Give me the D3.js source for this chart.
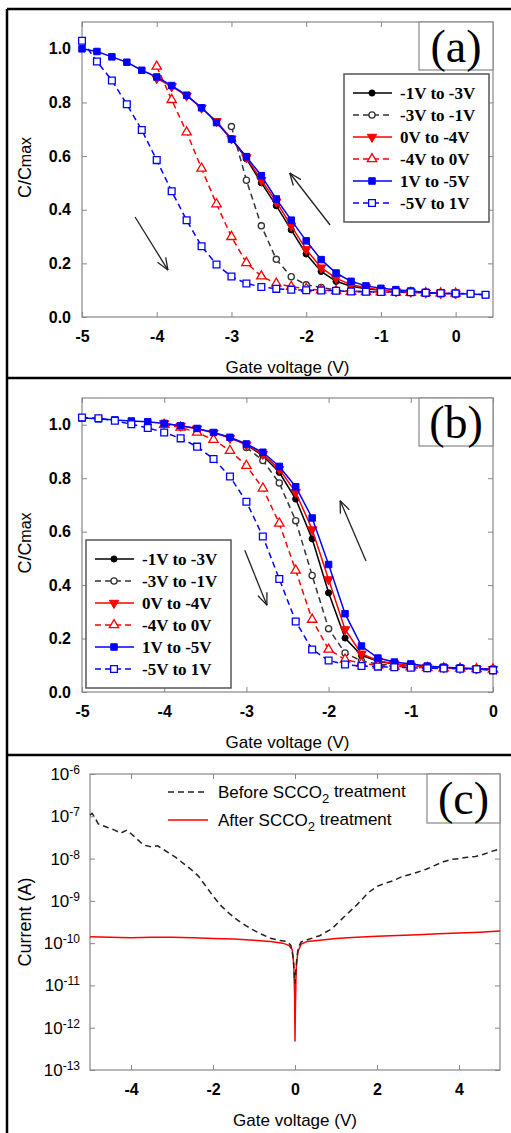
<!DOCTYPE html>
<html>
<head>
<meta charset="utf-8">
<script src="https://cdn.jsdelivr.net/npm/d3@7"></script>
<style>
  body { margin: 0; background: #fff; }
</style>
</head>
<body>
<div id="chart"></div>
<script>
/* global d3 */

/* ---- panel (a): C/Cmax vs gate voltage ---- */
var aVoltFull = [-5, -4.8, -4.6, -4.4, -4.2, -4, -3.8, -3.6, -3.4, -3.2, -3, -2.8, -2.6, -2.4,
  -2.2, -2, -1.8, -1.6, -1.4, -1.2, -1, -0.8, -0.6, -0.4, -0.2, 0, 0.2, 0.4];
var aVolt4 = [-4, -3.8, -3.6, -3.4, -3.2, -3, -2.8, -2.6, -2.4, -2.2, -2, -1.8, -1.6, -1.4,
  -1.2, -1, -0.8, -0.6, -0.4, -0.2, 0];
var aVolt3 = [-3, -2.8, -2.6, -2.4, -2.2, -2, -1.8, -1.6, -1.4, -1.2, -1];

var aM1toM3 = [0.665, 0.59, 0.50, 0.415, 0.325, 0.235, 0.17, 0.133, 0.115, 0.105, 0.10];
var aM3toM1 = [0.71, 0.51, 0.34, 0.215, 0.15, 0.12, 0.11, 0.10, 0.097, 0.095, 0.095];
var a0toM4 = [0.89, 0.86, 0.825, 0.78, 0.73, 0.665, 0.595, 0.51, 0.43, 0.34, 0.252, 0.184,
  0.145, 0.12, 0.11, 0.10, 0.095, 0.093, 0.09, 0.088, 0.087];
var aM4to0 = [0.934, 0.81, 0.689, 0.554, 0.421, 0.299, 0.202, 0.152, 0.125, 0.113, 0.105,
  0.10, 0.097, 0.095, 0.094, 0.093, 0.092, 0.091, 0.09, 0.089, 0.088];
var a1toM5 = [1.0, 0.99, 0.97, 0.95, 0.92, 0.895, 0.863, 0.827, 0.78, 0.725, 0.663, 0.598,
  0.527, 0.44, 0.361, 0.284, 0.214, 0.164, 0.133, 0.116, 0.107, 0.102, 0.097, 0.092, 0.088,
  0.087, 0.086, 0.083];
var aM5to1 = [1.03, 0.953, 0.882, 0.793, 0.697, 0.585, 0.469, 0.361, 0.264, 0.196, 0.151,
  0.125, 0.112, 0.105, 0.102, 0.10, 0.099, 0.098, 0.095, 0.094, 0.093, 0.093, 0.092, 0.09,
  0.089, 0.088, 0.087, 0.083];

/* ---- panel (b) ---- */
var bVoltFull = [-5, -4.8, -4.6, -4.4, -4.2, -4, -3.8, -3.6, -3.4, -3.2, -3, -2.8, -2.6, -2.4,
  -2.2, -2, -1.8, -1.6, -1.4, -1.2, -1, -0.8, -0.6, -0.4, -0.2, 0];
var bVolt4 = aVolt4;
var bVolt3 = aVolt3;

var bM1toM3 = [0.925, 0.884, 0.822, 0.722, 0.573, 0.371, 0.202, 0.137, 0.115, 0.105, 0.097];
var bM3toM1 = [0.915, 0.866, 0.782, 0.641, 0.436, 0.237, 0.146, 0.116, 0.105, 0.10, 0.097];
var b0toM4 = [1.005, 0.996, 0.985, 0.97, 0.95, 0.925, 0.89, 0.834, 0.747, 0.608, 0.421, 0.234,
  0.143, 0.117, 0.106, 0.098, 0.094, 0.091, 0.089, 0.087, 0.085];
var bM4to0 = [1.0, 0.99, 0.971, 0.944, 0.903, 0.847, 0.762, 0.631, 0.455, 0.271, 0.159, 0.122,
  0.107, 0.10, 0.096, 0.093, 0.091, 0.089, 0.088, 0.086, 0.085];
var b1toM5 = [1.025, 1.022, 1.018, 1.014, 1.011, 1.005, 0.996, 0.986, 0.971, 0.953, 0.928,
  0.897, 0.844, 0.768, 0.651, 0.477, 0.293, 0.172, 0.127, 0.112, 0.105, 0.097, 0.093, 0.09,
  0.087, 0.085];
var bM5to1 = [1.027, 1.024, 1.015, 1.002, 0.988, 0.971, 0.949, 0.918, 0.872, 0.806, 0.712,
  0.582, 0.423, 0.264, 0.159, 0.118, 0.103, 0.097, 0.095, 0.093, 0.091, 0.089, 0.088, 0.087,
  0.085, 0.081];

var sweepLabels = ["-1V to -3V", "-3V to -1V", "0V to -4V", "-4V to 0V", "1V to -5V", "-5V to 1V"];
var cvTicksY = [0, 0.2, 0.4, 0.6, 0.8, 1.0];

/* ---- panel (c): leakage current ---- */
var cBeforeVolt = [-5, -4.95, -4.88, -4.8, -4.6, -4.4, -4.25, -4.1, -3.9, -3.7, -3.5, -3.35,
  -3.1, -2.9, -2.7, -2.5, -2.35, -2.2, -2, -1.8, -1.6, -1.4, -1.2, -1, -0.8, -0.6, -0.4,
  -0.2, -0.1, -0.05, 0, 0.04, 0.08, 0.15, 0.3, 0.6, 0.9, 1.2, 1.5, 1.8, 2, 2.2, 2.4, 2.6,
  2.8, 3, 3.2, 3.4, 3.6, 3.8, 4, 4.2, 4.4, 4.6, 4.8, 5];
var cBefore = [1.07e-7, 1.17e-7, 9.3e-8, 6.6e-8, 5.6e-8, 4.7e-8, 4.0e-8, 4.7e-8, 3.2e-8,
  2.1e-8, 1.9e-8, 2.0e-8, 1.4e-8, 1.05e-8, 7.4e-9, 5.2e-9, 3.8e-9, 2.4e-9, 1.3e-9, 7.6e-10,
  5.0e-10, 3.5e-10, 2.6e-10, 2.0e-10, 1.6e-10, 1.3e-10, 1.17e-10, 1.1e-10, 8.9e-11, 5.0e-11,
  1.1e-11, 4.0e-11, 7.9e-11, 1.07e-10, 1.2e-10, 1.5e-10, 2.2e-10, 4.2e-10, 7.9e-10, 1.6e-9,
  2.2e-9, 2.6e-9, 3.0e-9, 3.7e-9, 4.2e-9, 4.8e-9, 5.6e-9, 6.8e-9, 8.3e-9, 9.5e-9, 1.0e-8,
  1.07e-8, 1.12e-8, 1.26e-8, 1.48e-8, 1.7e-8];
var cAfterVolt = [-5, -4.5, -4, -3.5, -3, -2.5, -2, -1.5, -1, -0.6, -0.3, -0.15, -0.07, -0.03,
  -0.01, 0, 0.01, 0.03, 0.07, 0.15, 0.3, 0.6, 1, 1.5, 2, 2.5, 3, 3.5, 4, 4.5, 5];
var cAfter = [1.41e-10, 1.38e-10, 1.35e-10, 1.38e-10, 1.38e-10, 1.35e-10, 1.29e-10, 1.26e-10,
  1.17e-10, 1.1e-10, 1.0e-10, 8.9e-11, 7.1e-11, 3.2e-11, 6.3e-12, 4.7e-13, 3.2e-12, 2.5e-11,
  6.3e-11, 9.5e-11, 1.1e-10, 1.17e-10, 1.29e-10, 1.38e-10, 1.45e-10, 1.51e-10, 1.58e-10,
  1.66e-10, 1.74e-10, 1.82e-10, 1.95e-10];
var cLegend = ["Before SCCO", "After SCCO"];
var cTicksX = [-4, -2, 0, 2, 4];
var cTicksY = [-6, -7, -8, -9, -10, -11, -12, -13];


var W = 511, H = 1133;
var sans = "'Liberation Sans', Arial, sans-serif";
var serif = "'Liberation Serif', 'Times New Roman', serif";

/* plain hyphen minus, like the original figure */
var intFmt = function(d) { return String(d); };

var svg = d3.select("#chart").append("svg")
  .attr("width", W)
  .attr("height", H)
  .style("display", "block");
svg.append("rect").attr("width", W).attr("height", H).attr("fill", "#fff");

/* outer figure frame */
var frame = svg.append("g").attr("stroke", "#000").attr("stroke-width", 2.5);
frame.append("line").attr("x1", 7).attr("y1", 9).attr("x2", 7).attr("y2", H);
frame.append("line").attr("x1", 7).attr("y1", 9).attr("x2", W).attr("y2", 9);
frame.append("line").attr("x1", 7).attr("y1", 378).attr("x2", W).attr("y2", 378);
frame.append("line").attr("x1", 7).attr("y1", 755).attr("x2", W).attr("y2", 755);

/* marker styles for the six sweeps */
var markers = [
  { color: "#000", sym: d3.symbolCircle, size: 30, open: false, dash: null, rot: 0 },
  { color: "#333", sym: d3.symbolCircle, size: 30, open: true, dash: "6,4", rot: 0 },
  { color: "#f00", sym: d3.symbolTriangle, size: 38, open: false, dash: null, rot: 180 },
  { color: "#f00", sym: d3.symbolTriangle, size: 38, open: true, dash: "6,4", rot: 0 },
  { color: "#00f", sym: d3.symbolSquare, size: 42, open: false, dash: null, rot: 0 },
  { color: "#00f", sym: d3.symbolSquare, size: 46, open: true, dash: "6,4", rot: 0 }
];

function styleAxis(sel, fontSize, bold) {
  sel.select(".domain").remove();
  sel.selectAll(".tick line").attr("stroke", "#888");
  sel.selectAll(".tick text")
    .style("font-family", sans)
    .style("font-size", fontSize + "px")
    .style("font-weight", bold ? "bold" : "normal")
    .attr("fill", "#000");
}

function drawMarker(g, m, x, y) {
  g.append("path")
    .attr("d", d3.symbol().type(m.sym).size(m.size)())
    .attr("transform", "translate(" + x + "," + y + ") rotate(" + m.rot + ")")
    .attr("fill", m.open ? "#fff" : m.color)
    .attr("stroke", m.color)
    .attr("stroke-width", m.open ? 1.3 : 1);
}

function drawArrow(g, x1, y1, x2, y2) {
  var ang = Math.atan2(y2 - y1, x2 - x1);
  var len = 13, spread = 0.38;
  g.append("line")
    .attr("x1", x1).attr("y1", y1).attr("x2", x2).attr("y2", y2)
    .attr("stroke", "#222").attr("stroke-width", 1.3);
  [ang + Math.PI - spread, ang + Math.PI + spread].forEach(function(a) {
    g.append("line")
      .attr("x1", x2).attr("y1", y2)
      .attr("x2", x2 + len * Math.cos(a)).attr("y2", y2 + len * Math.sin(a))
      .attr("stroke", "#222").attr("stroke-width", 1.3);
  });
}

function labelBox(g, x, y, w, h, txt) {
  g.append("rect").attr("x", x).attr("y", y).attr("width", w).attr("height", h)
    .attr("fill", "#fff").attr("stroke", "#888").attr("stroke-width", 1.2);
  g.append("text").attr("x", x + w / 2).attr("y", y + h / 2).attr("dy", "0.34em")
    .attr("text-anchor", "middle")
    .style("font-family", serif).style("font-size", "46px")
    .text(txt);
}

/**
 * Draws one C-V panel (a or b)
 */
function drawCV(box, xDomain, xTicks, series, legend, label, arrows) {
  var x = d3.scaleLinear().domain(xDomain).range([box.left, box.right]);
  var y = d3.scaleLinear().domain([0, 1.1]).range([box.bottom, box.top]);
  var g = svg.append("g");

  g.append("g").attr("transform", "translate(0," + box.bottom + ")")
    .call(d3.axisBottom(x).tickValues(xTicks).tickSize(-5).tickPadding(14).tickFormat(intFmt))
    .call(styleAxis, 16, true);
  g.append("g").attr("transform", "translate(0," + box.top + ")")
    .call(d3.axisTop(x).tickValues(xTicks).tickSize(-5).tickFormat(""))
    .call(styleAxis, 16, true);
  g.append("g").attr("transform", "translate(" + box.left + ",0)")
    .call(d3.axisLeft(y).tickValues(cvTicksY).tickSize(-5).tickPadding(11).tickFormat(d3.format(".1f")))
    .call(styleAxis, 16, true);
  g.append("g").attr("transform", "translate(" + box.right + ",0)")
    .call(d3.axisRight(y).tickValues(cvTicksY).tickSize(-5).tickFormat(""))
    .call(styleAxis, 16, true);

  g.append("rect")
    .attr("x", box.left).attr("y", box.top)
    .attr("width", box.right - box.left).attr("height", box.bottom - box.top)
    .attr("fill", "none").attr("stroke", "#888").attr("stroke-width", 1.2);

  /* axis titles */
  g.append("text")
    .attr("x", (box.left + box.right) / 2).attr("y", box.bottom + 56)
    .attr("text-anchor", "middle")
    .style("font-family", sans).style("font-size", "17px")
    .text("Gate voltage (V)");
  var yt = g.append("text")
    .attr("transform", "translate(31," + ((box.top + box.bottom) / 2 - 2) + ") rotate(-90)")
    .attr("text-anchor", "middle")
    .style("font-family", sans).style("font-size", "18px");
  yt.append("tspan").text("C/C");
  yt.append("tspan").style("font-size", "16px").text("max");

  labelBox(g, box.right - 74, box.top, 74, 48, label);

  /* curves */
  var line = d3.line()
    .x(function(d) { return x(d[0]); })
    .y(function(d) { return y(d[1]); });

  series.forEach(function(s, i) {
    var m = markers[i];
    var pts = s.volt.map(function(v, j) { return [v, s.vals[j]]; });
    var sg = g.append("g");
    sg.append("path")
      .attr("d", line(pts))
      .attr("fill", "none")
      .attr("stroke", m.color)
      .attr("stroke-width", 1.5)
      .attr("stroke-dasharray", m.dash);
    pts.forEach(function(p) { drawMarker(sg, m, x(p[0]), y(p[1])); });
  });

  arrows.forEach(function(a) {
    drawArrow(g, x(a[0]), y(a[1]), x(a[2]), y(a[3]));
  });

  /* legend */
  var lg = g.append("g");
  lg.append("rect")
    .attr("x", legend.x).attr("y", legend.y).attr("width", legend.w).attr("height", legend.h)
    .attr("fill", "#fff").attr("stroke", "#555").attr("stroke-width", 1.5);
  sweepLabels.forEach(function(lbl, i) {
    var m = markers[i];
    var ly = legend.y + 19 + i * 22;
    lg.append("line")
      .attr("x1", legend.x + 9).attr("x2", legend.x + 48)
      .attr("y1", ly).attr("y2", ly)
      .attr("stroke", m.color).attr("stroke-width", 1.5)
      .attr("stroke-dasharray", m.dash);
    drawMarker(lg, m, legend.x + 28, ly);
    lg.append("text")
      .attr("x", legend.x + 56).attr("y", ly).attr("dy", "0.35em")
      .style("font-family", serif).style("font-size", "17px").style("font-weight", "bold")
      .text(lbl);
  });
}

drawCV({ left: 82, top: 22, right: 493, bottom: 317 }, [-5, 0.5], [-5, -4, -3, -2, -1, 0],
  [
    { volt: aVolt3, vals: aM1toM3 },
    { volt: aVolt3, vals: aM3toM1 },
    { volt: aVolt4, vals: a0toM4 },
    { volt: aVolt4, vals: aM4to0 },
    { volt: aVoltFull, vals: a1toM5 },
    { volt: aVoltFull, vals: aM5to1 }
  ],
  { x: 344, y: 74, w: 145, h: 148 }, "(a)",
  [[-1.68, 0.343, -2.22, 0.537], [-4.29, 0.373, -3.85, 0.175]]);

drawCV({ left: 82, top: 398, right: 493, bottom: 692 }, [-5, 0], [-5, -4, -3, -2, -1, 0],
  [
    { volt: bVolt3, vals: bM1toM3 },
    { volt: bVolt3, vals: bM3toM1 },
    { volt: bVolt4, vals: b0toM4 },
    { volt: bVolt4, vals: bM4to0 },
    { volt: bVoltFull, vals: b1toM5 },
    { volt: bVoltFull, vals: bM5to1 }
  ],
  { x: 86, y: 540, w: 145, h: 148 }, "(b)",
  [[-1.545, 0.49, -1.86, 0.716], [-3.02, 0.53, -2.75, 0.325]]);

/* ---- panel (c) ---- */
(function() {
  var box = { left: 90, top: 774, right: 500, bottom: 1070 };
  var x = d3.scaleLinear().domain([-5, 5]).range([box.left, box.right]);
  var y = d3.scaleLog().domain([1e-13, 1e-6]).range([box.bottom, box.top]);
  var yTickVals = cTicksY.map(function(e) { return Math.pow(10, e); });
  var g = svg.append("g");

  g.append("g").attr("transform", "translate(0," + box.bottom + ")")
    .call(d3.axisBottom(x).tickValues(cTicksX).tickSize(-5).tickPadding(14).tickFormat(intFmt))
    .call(styleAxis, 16, true);
  g.append("g").attr("transform", "translate(0," + box.top + ")")
    .call(d3.axisTop(x).tickValues(cTicksX).tickSize(-5).tickFormat(""))
    .call(styleAxis, 16, true);
  var ya = g.append("g").attr("transform", "translate(" + box.left + ",0)")
    .call(d3.axisLeft(y).tickValues(yTickVals).tickSize(-5).tickPadding(10))
    .call(styleAxis, 17, false);
  ya.selectAll(".tick text").each(function(d, i) {
    var t = d3.select(this).text(null);
    t.append("tspan").text("10");
    t.append("tspan").attr("dy", "-0.5em").style("font-size", "12px").text(String(cTicksY[i]));
  });
  g.append("g").attr("transform", "translate(" + box.right + ",0)")
    .call(d3.axisRight(y).tickValues(yTickVals).tickSize(-5).tickFormat(""))
    .call(styleAxis, 16, true);

  g.append("rect")
    .attr("x", box.left).attr("y", box.top)
    .attr("width", box.right - box.left).attr("height", box.bottom - box.top)
    .attr("fill", "none").attr("stroke", "#888").attr("stroke-width", 1.2);

  g.append("text")
    .attr("x", (box.left + box.right) / 2).attr("y", box.bottom + 56)
    .attr("text-anchor", "middle")
    .style("font-family", sans).style("font-size", "17px")
    .text("Gate voltage (V)");
  g.append("text")
    .attr("transform", "translate(31," + ((box.top + box.bottom) / 2) + ") rotate(-90)")
    .attr("text-anchor", "middle")
    .style("font-family", sans).style("font-size", "18px")
    .text("Current (A)");

  labelBox(g, box.right - 73, box.top, 73, 49, "(c)");

  var line = d3.line()
    .x(function(d) { return x(d[0]); })
    .y(function(d) { return y(d[1]); });

  g.append("path")
    .attr("d", line(cAfterVolt.map(function(v, i) { return [v, cAfter[i]]; })))
    .attr("fill", "none").attr("stroke", "#f00").attr("stroke-width", 1.5);
  g.append("path")
    .attr("d", line(cBeforeVolt.map(function(v, i) { return [v, cBefore[i]]; })))
    .attr("fill", "none").attr("stroke", "#222").attr("stroke-width", 1.5)
    .attr("stroke-dasharray", "6,4");

  /* legend */
  var styles = [{ color: "#222", dash: "6,4" }, { color: "#f00", dash: null }];
  cLegend.forEach(function(lbl, i) {
    var ly = 792 + i * 28;
    g.append("line")
      .attr("x1", 168).attr("x2", 208).attr("y1", ly).attr("y2", ly)
      .attr("stroke", styles[i].color).attr("stroke-width", 1.5)
      .attr("stroke-dasharray", styles[i].dash);
    var t = g.append("text")
      .attr("x", 218).attr("y", ly + 6)
      .style("font-family", sans).style("font-size", "17px");
    t.append("tspan").text(lbl);
    t.append("tspan").attr("dy", "0.35em").style("font-size", "13px").text("2");
    t.append("tspan").attr("dy", "-0.35em").text(" treatment");
  });
})();
</script>
</body>
</html>
